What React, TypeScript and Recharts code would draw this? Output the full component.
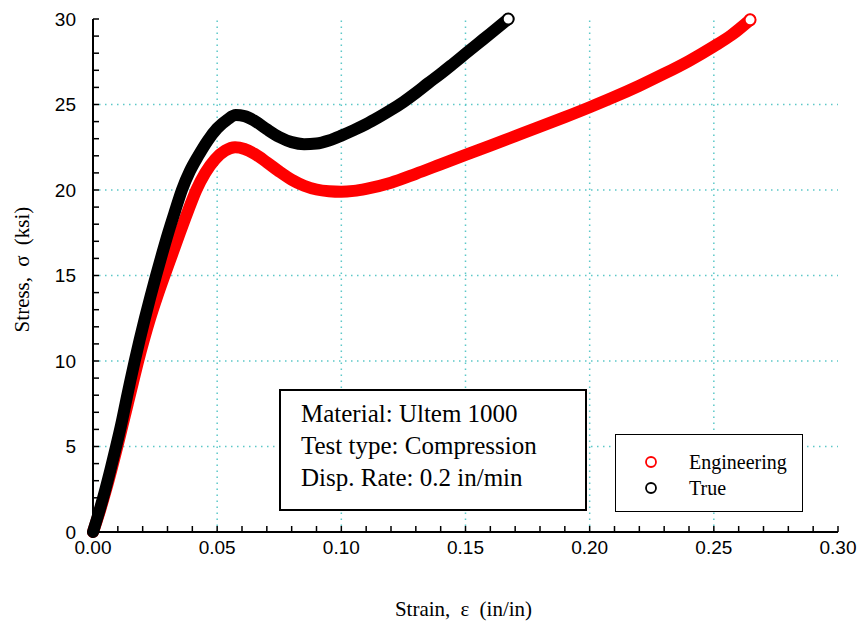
import React from "react";
import {
  Legend,
  Line,
  LineChart,
  ReferenceLine,
  XAxis,
  YAxis,
} from "recharts";

// values
const engStrain = [
  0, 0.0028, 0.0053, 0.0076, 0.0098, 0.0119, 0.014, 0.0161, 0.0182, 0.0205,
  0.023, 0.0258, 0.0288, 0.0319, 0.035, 0.0382, 0.0416, 0.0452, 0.0492, 0.0532,
  0.0572, 0.061, 0.065, 0.07, 0.075, 0.08, 0.085, 0.09, 0.095, 0.1, 0.105,
  0.11, 0.12, 0.13, 0.14, 0.15, 0.16, 0.17, 0.18, 0.19, 0.2, 0.21, 0.22, 0.23,
  0.24, 0.25, 0.257, 0.2646,
];
const engStress = [
  0, 1.25, 2.5, 3.75, 5, 6.25, 7.5, 8.75, 10, 11.25, 12.5, 13.75, 15, 16.25,
  17.5, 18.75, 20, 21, 21.8, 22.3, 22.5, 22.4, 22.12, 21.62, 21.08, 20.6,
  20.25, 20.03, 19.93, 19.9, 19.95, 20.07, 20.43, 20.95, 21.5, 22.05, 22.6,
  23.15, 23.7, 24.26, 24.84, 25.45, 26.1, 26.8, 27.55, 28.4, 29.05, 29.95,
];

const trueStrain = [
  0, 0.0026, 0.005, 0.0072, 0.0093, 0.0113, 0.0131, 0.0149, 0.0168, 0.0188,
  0.0209, 0.0231, 0.0254, 0.0278, 0.0303, 0.033, 0.0358, 0.039, 0.0424, 0.046,
  0.05, 0.054, 0.0575, 0.061, 0.065, 0.07, 0.075, 0.08, 0.085, 0.09, 0.095,
  0.1, 0.105, 0.11, 0.115, 0.12, 0.125, 0.13, 0.135, 0.14, 0.145, 0.15, 0.155,
  0.16, 0.1672,
];
const trueStress = [
  0, 1.25, 2.5, 3.75, 5, 6.25, 7.5, 8.75, 10, 11.25, 12.5, 13.75, 15, 16.25,
  17.5, 18.75, 20, 21.1, 22, 22.85, 23.6, 24.1, 24.38, 24.32, 24.05, 23.55,
  23.1, 22.8, 22.68, 22.72, 22.9, 23.18, 23.5, 23.85, 24.25, 24.68, 25.15,
  25.68, 26.25, 26.8, 27.38, 27.97, 28.56, 29.15, 30,
];

const xTicks = [
  0, 0.01, 0.02, 0.03, 0.04, 0.05, 0.06, 0.07, 0.08, 0.09, 0.1, 0.11, 0.12,
  0.13, 0.14, 0.15, 0.16, 0.17, 0.18, 0.19, 0.2, 0.21, 0.22, 0.23, 0.24, 0.25,
  0.26, 0.27, 0.28, 0.29, 0.3,
];
const xMajor = [0, 0.05, 0.1, 0.15, 0.2, 0.25, 0.3];
const yTicks = [
  0, 1, 2, 3, 4, 5, 6, 7, 8, 9, 10, 11, 12, 13, 14, 15, 16, 17, 18, 19, 20,
  21, 22, 23, 24, 25, 26, 27, 28, 29, 30,
];
const yMajor = [0, 5, 10, 15, 20, 25, 30];
const xGrid = [0.05, 0.1, 0.15, 0.2, 0.25];
const yGrid = [5, 10, 15, 20, 25];

const notes = [
  "Material: Ultem 1000",
  "Test type: Compression",
  "Disp. Rate: 0.2 in/min",
];

const engData = engStrain.map((s, i) => ({ strain: s, stress: engStress[i] }));
const trueData = trueStrain.map((s, i) => ({ strain: s, stress: trueStress[i] }));

const SANS = "'Liberation Sans', Arial, sans-serif";
const SERIF = "'Liberation Serif', 'Times New Roman', serif";
const GRID = "#5cc8c8";

const isMajor = (list: number[], v: number) =>
  list.some((m) => Math.abs(m - v) < 1e-9);

const XTick = (props: any) => {
  const { x, y, payload } = props;
  if (!isMajor(xMajor, payload.value)) return <g />;
  return (
    <text x={x} y={y} dy="0.71em" textAnchor="middle" fontFamily={SANS} fontSize={19} fill="#000">
      {payload.value.toFixed(2)}
    </text>
  );
};

const YTick = (props: any) => {
  const { x, y, payload } = props;
  if (!isMajor(yMajor, payload.value)) return <g />;
  return (
    <text x={x} y={y} dy="0.36em" textAnchor="end" fontFamily={SANS} fontSize={19} fill="#000">
      {payload.value}
    </text>
  );
};

const endDot = (color: string, last: number) => (props: any) => {
  const { cx, cy, index } = props;
  if (index !== last) return <g key={`d${index}`} />;
  return (
    <circle key={`d${index}`} cx={cx} cy={cy} r={5.5} fill="#fff" stroke={color} strokeWidth={2} />
  );
};

const LegendBox = () => (
  <div
    style={{
      width: 188,
      height: 78,
      boxSizing: "border-box",
      border: "1.5px solid #000",
      background: "#fff",
      fontFamily: SERIF,
      fontSize: 20,
      position: "relative",
    }}
  >
    {[
      { name: "Engineering", color: "#ff0000", top: 27 },
      { name: "True", color: "#000", top: 53 },
    ].map((item) => (
      <div key={item.name} style={{ position: "absolute", left: 0, top: item.top - 12, height: 24, display: "flex", alignItems: "center" }}>
        <svg width={70} height={24} style={{ display: "block" }}>
          <circle cx={35} cy={12} r={5} fill="#fff" stroke={item.color} strokeWidth={1.8} />
        </svg>
        <span style={{ marginLeft: 3, lineHeight: "24px" }}>{item.name}</span>
      </div>
    ))}
  </div>
);

const StressStrainChart = () => {
  return (
    <div style={{ position: "absolute", left: 0, top: 0, width: 862, height: 626 }}>
      <LineChart
        width={862}
        height={626}
        margin={{ top: 19, right: 24, left: 0, bottom: 0 }}
      >
        <XAxis
          xAxisId="bottom"
          dataKey="strain"
          type="number"
          domain={[0, 0.3]}
          ticks={xTicks}
          interval={0}
          height={94}
          tickSize={-6}
          tickMargin={15}
          tick={XTick}
          axisLine={{ stroke: "#000", strokeWidth: 2 }}
          tickLine={{ stroke: "#000", strokeWidth: 1.5 }}
          label={{
            content: ({ viewBox }: any) => (
              <text
                x={viewBox.x + viewBox.width / 2 - 2}
                y={viewBox.y + 84}
                textAnchor="middle"
                fontFamily={SERIF}
                fontSize={21}
                wordSpacing={5}
                fill="#000"
              >
                Strain, ε (in/in)
              </text>
            ),
          }}
        />
        <XAxis
          xAxisId="top"
          orientation="top"
          dataKey="strain"
          type="number"
          domain={[0, 0.3]}
          ticks={xTicks}
          interval={0}
          height={0}
          tickSize={-6}
          tick={false}
          axisLine={{ stroke: "#000", strokeWidth: 2 }}
          tickLine={{ stroke: "#000", strokeWidth: 1.5 }}
        />
        <YAxis
          yAxisId="left"
          type="number"
          domain={[0, 30]}
          ticks={yTicks}
          interval={0}
          width={93}
          tickSize={-6}
          tickMargin={23}
          tick={YTick}
          axisLine={{ stroke: "#000", strokeWidth: 2 }}
          tickLine={{ stroke: "#000", strokeWidth: 1.5 }}
          label={{
            content: ({ viewBox }: any) => {
              const cx = 22;
              const cy = viewBox.y + viewBox.height / 2 - 6;
              return (
                <text
                  x={cx}
                  y={cy}
                  transform={`rotate(-90 ${cx} ${cy})`}
                  textAnchor="middle"
                  dominantBaseline="central"
                  fontFamily={SERIF}
                  fontSize={21}
                  wordSpacing={5}
                  fill="#000"
                >
                  Stress, σ (ksi)
                </text>
              );
            },
          }}
        />
        <YAxis
          yAxisId="right"
          orientation="right"
          type="number"
          domain={[0, 30]}
          ticks={yTicks}
          interval={0}
          width={0}
          tickSize={-6}
          tick={false}
          axisLine={{ stroke: "#000", strokeWidth: 2 }}
          tickLine={{ stroke: "#000", strokeWidth: 1.5 }}
        />
        {xGrid.map((v) => (
          <ReferenceLine key={`gx${v}`} x={v} xAxisId="bottom" yAxisId="left" stroke={GRID} strokeWidth={1.5} strokeDasharray="1.5 4.5" />
        ))}
        {yGrid.map((v) => (
          <ReferenceLine key={`gy${v}`} y={v} xAxisId="bottom" yAxisId="left" stroke={GRID} strokeWidth={1.5} strokeDasharray="1.5 4.5" />
        ))}
        <Line
          name="Engineering"
          data={engData}
          dataKey="stress"
          xAxisId="bottom"
          yAxisId="left"
          type="monotone"
          stroke="#ff0000"
          strokeWidth={12}
          strokeLinecap="round"
          strokeLinejoin="round"
          dot={endDot("#ff0000", engData.length - 1)}
          activeDot={false}
          isAnimationActive={false}
        />
        <Line
          name="True"
          data={trueData}
          dataKey="stress"
          xAxisId="bottom"
          yAxisId="left"
          type="monotone"
          stroke="#000"
          strokeWidth={12}
          strokeLinecap="round"
          strokeLinejoin="round"
          dot={endDot("#000", trueData.length - 1)}
          activeDot={false}
          isAnimationActive={false}
        />
        <Legend
          layout="vertical"
          align="center"
          verticalAlign="middle"
          content={() => <LegendBox />}
          wrapperStyle={{ left: 615, top: 434, width: 188, height: 78 }}
        />
      </LineChart>
      <div
        style={{
          position: "absolute",
          left: 279,
          top: 389,
          width: 308,
          height: 122,
          boxSizing: "border-box",
          border: "2px solid #000",
          background: "#fff",
          fontFamily: SERIF,
          fontSize: 25,
          lineHeight: "32px",
          padding: "7px 0 0 20px",
          color: "#000",
        }}
      >
        {notes.map((n) => (
          <div key={n} style={{ whiteSpace: "nowrap" }}>{n}</div>
        ))}
      </div>
    </div>
  );
};

export default function App() {
  return <StressStrainChart />;
}
